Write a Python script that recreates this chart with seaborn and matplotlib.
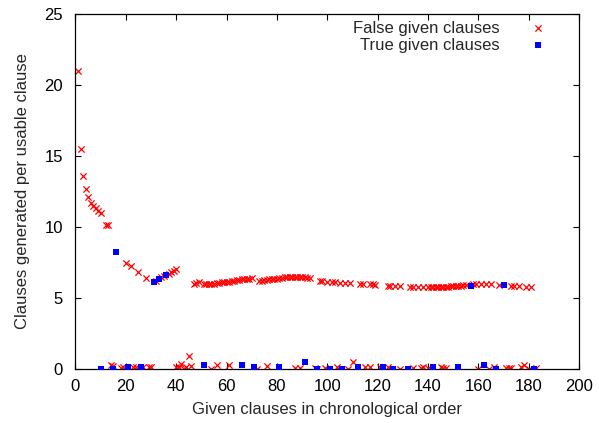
import pandas as pd
import matplotlib
matplotlib.use("Agg")
import matplotlib.pyplot as plt
import seaborn as sns

# Values
false_x = [1, 2, 3, 4, 5, 6, 7, 8, 9, 10, 12, 13,
           20, 22, 25, 28, 32, 34, 35, 37, 38, 39, 40,
           47, 48, 49, 51, 52, 53, 54, 55, 56, 57, 58, 59, 60, 61, 62, 63, 64, 65, 66, 67, 68, 69, 70,
           73, 74, 75, 76, 77, 78, 79, 80, 81, 82, 83, 84, 85, 86, 87, 88, 89, 90, 91, 92, 93,
           97, 98, 100, 102, 103, 105, 107, 109, 113, 114, 117, 118, 119,
           124, 125, 127, 129, 133, 134, 136, 138,
           140, 141, 142, 143, 144, 145, 146, 147, 148, 149, 150, 151, 152, 153, 154, 155,
           158, 159, 161, 163, 165, 168, 173, 174, 176, 179, 181,
           # near-zero cluster
           14, 15, 18, 19, 23, 24, 27, 29, 30, 40, 41, 42, 43, 44, 45, 46, 54, 56, 61,
           72, 76, 87, 89, 95, 96, 99, 104, 108, 110, 115, 117, 121, 124, 129, 134,
           137, 138, 140, 145, 146, 147, 160, 164, 166, 171, 172, 173, 177, 178, 180, 183]
false_y = [21.0, 15.5, 13.6, 12.7, 12.1, 11.7, 11.5, 11.3, 11.1, 11.0, 10.1, 10.1,
           7.45, 7.25, 6.8, 6.4, 6.2, 6.45, 6.55, 6.7, 6.8, 6.9, 7.0,
           5.95, 6.05, 6.1, 6.0, 5.95, 5.95, 5.95, 6.0, 6.05, 6.05, 6.1, 6.1, 6.15, 6.15, 6.2, 6.2, 6.25, 6.25, 6.3, 6.3, 6.35, 6.35, 6.4,
           6.2, 6.2, 6.25, 6.25, 6.3, 6.3, 6.35, 6.35, 6.4, 6.4, 6.45, 6.45, 6.45, 6.5, 6.5, 6.5, 6.45, 6.45, 6.45, 6.4, 6.4,
           6.2, 6.2, 6.15, 6.1, 6.1, 6.05, 6.05, 6.05, 5.95, 5.95, 5.95, 5.95, 5.9,
           5.85, 5.85, 5.85, 5.85, 5.8, 5.8, 5.8, 5.75,
           5.75, 5.75, 5.75, 5.8, 5.8, 5.8, 5.8, 5.8, 5.8, 5.85, 5.85, 5.85, 5.85, 5.85, 5.9, 5.9,
           5.95, 5.95, 5.95, 5.95, 5.95, 5.9, 5.85, 5.85, 5.85, 5.8, 5.8,
           0.3, 0.2, 0.05, 0.15, 0.15, 0.15, 0.1, 0.1, 0.1, 0.1, 0.1, 0.37, 0.0, 0.1, 0.9, 0.2, 0.0, 0.25, 0.28,
           0.0, 0.2, 0.05, 0.05, 0.05, 0.0, 0.05, 0.1, 0.0, 0.45, 0.1, 0.1, 0.1, 0.1, 0.0, 0.05,
           0.05, 0.1, 0.05, 0.1, 0.05, 0.05, 0.0, 0.0, 0.15, 0.05, 0.05, 0.05, 0.1, 0.28, 0.0, 0.05]

true_x = [16, 31, 33, 36, 157, 170,
          10, 15, 21, 26, 51, 66, 71, 81, 91, 96, 101, 106, 112, 122, 126, 132, 142, 152, 162, 167, 182]
true_y = [8.2, 6.1, 6.3, 6.6, 5.85, 5.92,
          0.0, 0.0, 0.1, 0.1, 0.25, 0.3, 0.1, 0.15, 0.5, 0.0, 0.0, 0.0, 0.15, 0.15, 0.0, 0.0, 0.1, 0.1, 0.28, 0.0, 0.0]

false_df = pd.DataFrame({"given": false_x, "ratio": false_y})
true_df = pd.DataFrame({"given": true_x, "ratio": true_y})

sns.set_style("ticks")
plt.rcParams["font.family"] = ["Liberation Sans", "DejaVu Sans"]

fig = plt.figure(figsize=(5.99, 4.23), dpi=100)
ax = fig.add_axes([0.126, 0.128, 0.841, 0.839])

sns.scatterplot(data=false_df, x="given", y="ratio", marker="x", color="#ff0000",
                s=20, linewidth=0.9, label="False given clauses", ax=ax, zorder=2)
sns.scatterplot(data=true_df, x="given", y="ratio", marker="s", color="#0000ff",
                s=18, linewidth=0, label="True given clauses", ax=ax, zorder=3)

ax.set_xlim(0, 200)
ax.set_ylim(0, 25)
ax.set_xticks(range(0, 201, 20))
ax.set_yticks(range(0, 26, 5))
ax.tick_params(axis="both", direction="in", length=4.5, width=0.8, top=True, right=True,
               labelsize=12, colors="black")
ax.tick_params(axis="x", pad=7)
ax.tick_params(axis="y", pad=9)
for sp in ax.spines.values():
    sp.set_visible(True)
    sp.set_linewidth(0.9)
    sp.set_color("black")

ax.set_xlabel("Given clauses in chronological order", fontsize=12, labelpad=6)
ax.set_ylabel("Clauses generated per usable clause", fontsize=12, labelpad=10)

leg = ax.legend(loc="upper right", markerfirst=False, frameon=False, fontsize=12,
                handletextpad=1.3, labelspacing=0.12, borderaxespad=0.0,
                bbox_to_anchor=(0.965, 1.0))
for col in leg._legend_handle_box.get_children():
    col.align = "right"

plt.savefig("out.png", dpi=100)
